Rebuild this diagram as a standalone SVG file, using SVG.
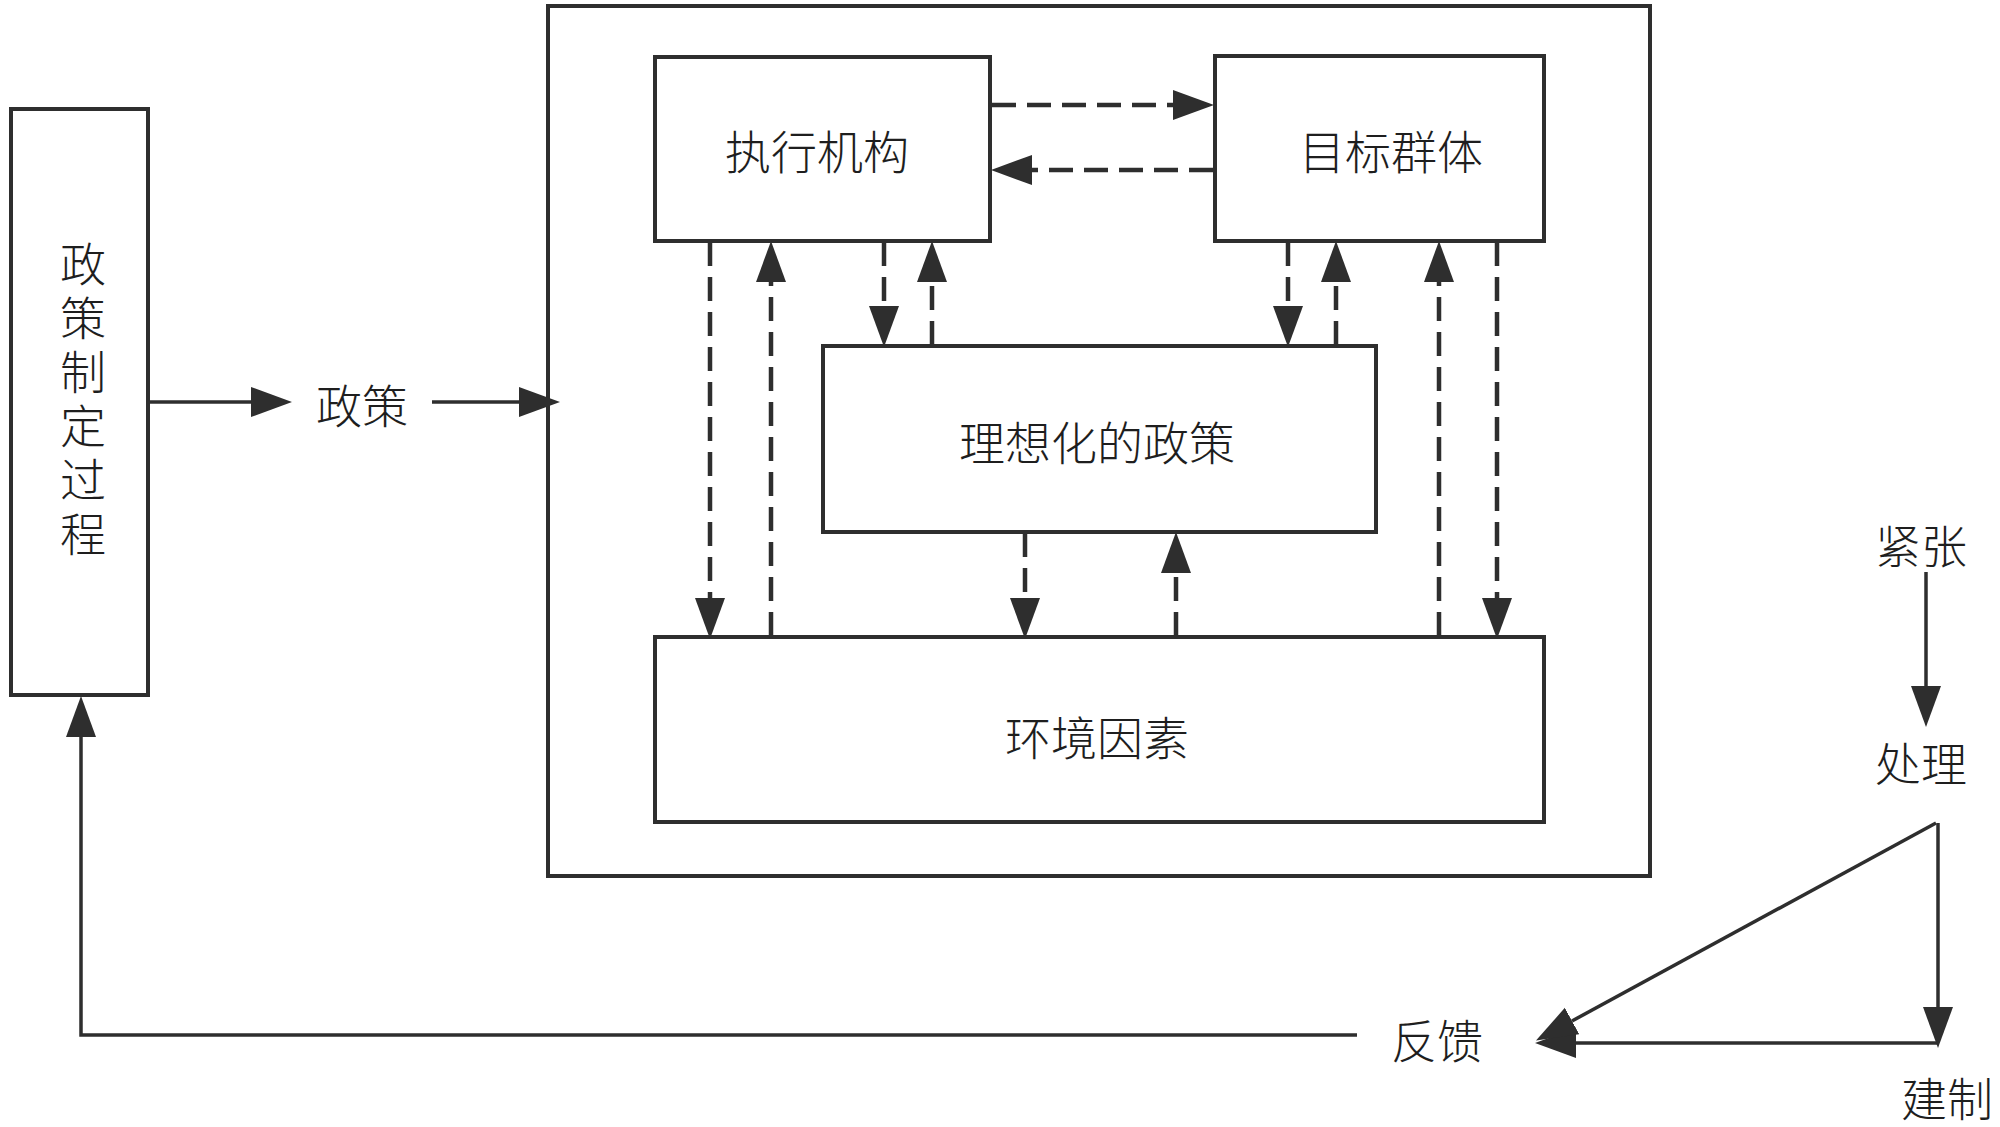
<svg xmlns="http://www.w3.org/2000/svg" width="2000" height="1127" viewBox="0 0 2000 1127">
<style>
.box{fill:none;stroke:#2e2e2e;stroke-width:4}
.lbl{font-family:"Noto Sans CJK SC","Noto Sans CJK JP",sans-serif;font-size:46px;fill:#1e1e1e;text-anchor:middle;dominant-baseline:central;font-weight:300}
.vert{writing-mode:vertical-rl;letter-spacing:8px}
.solid{fill:none;stroke:#2e2e2e;stroke-width:3.5}
.dash{fill:none;stroke:#2e2e2e;stroke-width:4.5;stroke-dasharray:24 11}
</style>
<defs>
<marker id="ah" markerUnits="userSpaceOnUse" markerWidth="42" markerHeight="32" refX="0" refY="15" orient="auto" viewBox="0 0 42 30">
<path d="M0,0 L41,15 L0,30 z" fill="#2e2e2e"/>
</marker>
</defs>
<rect width="2000" height="1127" fill="#ffffff"/>
<g id="outer"><rect class="box" x="548" y="6" width="1102" height="870"/></g>
<g id="n-policymaking">
<rect class="box" x="11" y="109" width="137" height="586"/>
<text class="lbl vert" x="83" y="403">政策制定过程</text>
</g>
<g id="n-policy"><text class="lbl" x="362" y="403">政策</text></g>
<g id="n-agency"><rect class="box" x="655" y="57" width="335" height="184"/><text class="lbl" x="817" y="149">执行机构</text></g>
<g id="n-target"><rect class="box" x="1215" y="56" width="329" height="185"/><text class="lbl" x="1391" y="149">目标群体</text></g>
<g id="n-ideal"><rect class="box" x="823" y="346" width="553" height="186"/><text class="lbl" x="1097" y="440">理想化的政策</text></g>
<g id="n-env"><rect class="box" x="655" y="637" width="889" height="185"/><text class="lbl" x="1097" y="735">环境因素</text></g>
<g id="n-tension"><text class="lbl" x="1921" y="543">紧张</text></g>
<g id="n-handle"><text class="lbl" x="1921" y="761">处理</text></g>
<g id="n-build"><text class="lbl" x="1947" y="1096">建制</text></g>
<g id="n-feedback"><text class="lbl" x="1437" y="1038">反馈</text></g>
<g id="connectors">
<path class="solid" d="M148,402 H251" marker-end="url(#ah)"/>
<path class="solid" d="M432,402 H519" marker-end="url(#ah)"/>
<path class="dash" d="M992,105 H1173" marker-end="url(#ah)"/>
<path class="dash" d="M1213,170 H1032" marker-end="url(#ah)"/>
<path class="dash" d="M710,242 V598" marker-end="url(#ah)"/>
<path class="dash" d="M771,636 V282" marker-end="url(#ah)"/>
<path class="dash" d="M884,242 V306" marker-end="url(#ah)"/>
<path class="dash" d="M932,345 V282" marker-end="url(#ah)"/>
<path class="dash" d="M1288,242 V306" marker-end="url(#ah)"/>
<path class="dash" d="M1336,345 V282" marker-end="url(#ah)"/>
<path class="dash" d="M1439,636 V282" marker-end="url(#ah)"/>
<path class="dash" d="M1497,242 V598" marker-end="url(#ah)"/>
<path class="dash" d="M1025,533 V598" marker-end="url(#ah)"/>
<path class="dash" d="M1176,636 V573" marker-end="url(#ah)"/>
<path class="solid" d="M1926,572 V686" marker-end="url(#ah)"/>
<path class="solid" d="M1938,823 V1007" marker-end="url(#ah)"/>
<path class="solid" d="M1938,1043 H1576" marker-end="url(#ah)"/>
<path class="solid" d="M1936,823 L1572,1021" marker-end="url(#ah)"/>
<path class="solid" d="M1357,1035 H81 V737" marker-end="url(#ah)"/>
</g>
</svg>
